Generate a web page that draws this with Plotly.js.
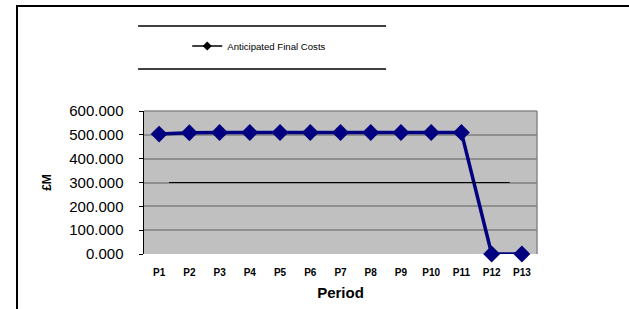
<!DOCTYPE html>
<html>
<head>
<meta charset="utf-8">
<script src="https://cdn.plot.ly/plotly-3.0.1.min.js"></script>
<style>
  html, body { margin: 0; padding: 0; background: #fff; }
  #frame { position: absolute; left: 16px; top: 5px; width: 620px; height: 310px;
           border-top: 2px solid #000; border-left: 2px solid #000; }
  #chart { position: absolute; left: 0; top: 0; width: 629px; height: 309px; }
</style>
</head>
<body>
<div id="frame"></div>
<div id="chart"></div>
<script>
const periods = ["P1","P2","P3","P4","P5","P6","P7","P8","P9","P10","P11","P12","P13"];
const anticipatedFinalCosts = [503, 509, 510, 510, 510, 510, 510, 510, 510, 510, 510, 0, 0];
const yTickValues = [0, 100, 200, 300, 400, 500, 600];
const yTickLabels = ["0.000","100.000","200.000","300.000","400.000","500.000","600.000"];
const seriesName = "Anticipated Final Costs";

const font = "Arial, 'Liberation Sans', sans-serif";

const traces = [
  {
    type: "scatter", mode: "lines+markers",
    x: periods, y: anticipatedFinalCosts,
    name: seriesName, showlegend: false,
    line: { color: "#000080", width: 3.5 },
    marker: { symbol: "diamond", size: 13, color: "#000080" },
    cliponaxis: false
  },
  {
    type: "scatter", mode: "lines+markers",
    x: [null], y: [null],
    name: seriesName, showlegend: true,
    line: { color: "#000000", width: 1.5 },
    marker: { symbol: "diamond", size: 7, color: "#000000" }
  }
];

const layout = {
  width: 629, height: 309,
  margin: { l: 144, r: 92, t: 111, b: 55 },
  paper_bgcolor: "rgba(0,0,0,0)",
  plot_bgcolor: "#c0c0c0",
  font: { family: font, color: "#000" },
  showlegend: true,
  legend: {
    orientation: "h", x: 0.11, y: 1.455, xanchor: "left", yanchor: "middle",
    bgcolor: "rgba(0,0,0,0)", font: { size: 9.6, family: font },
    itemwidth: 30
  },
  xaxis: {
    type: "category", range: [-0.5, 12.5],
    showgrid: false, zeroline: false,
    showline: false, ticks: "",
    tickfont: { size: 10, family: font, weight: "bold" },
    ticklabelstandoff: 11,
    title: { text: "Period", font: { size: 15, family: font, weight: "bold" }, standoff: 10 },
    automargin: false
  },
  yaxis: {
    range: [0, 600], tickvals: yTickValues, ticktext: yTickLabels,
    showgrid: true, gridcolor: "#8f8f8f", gridwidth: 2,
    zeroline: false,
    showline: true, linecolor: "#000", linewidth: 1.5,
    ticks: "outside", ticklen: 4, tickcolor: "#000",
    tickfont: { size: 15, family: font },
    ticklabelstandoff: 12,
    title: { text: "£M", font: { size: 12, family: font, weight: "bold" }, standoff: 15 },
    automargin: false
  },
  shapes: [
    { type: "line", xref: "paper", yref: "paper", x0: -0.015, x1: 0.616, y0: 1.594, y1: 1.594,
      line: { color: "#000", width: 1.5 } },
    { type: "line", xref: "paper", yref: "paper", x0: -0.015, x1: 0.616, y0: 1.294, y1: 1.294,
      line: { color: "#000", width: 1.5 } },
    { type: "line", xref: "x", yref: "y", x0: 0.33, x1: 11.6, y0: 300, y1: 300,
      line: { color: "#000", width: 1 } },
    { type: "line", xref: "paper", yref: "paper", x0: 0, x1: 1, y0: 1, y1: 1,
      line: { color: "#888", width: 1.5 } },
    { type: "line", xref: "paper", yref: "paper", x0: 1, x1: 1, y0: 0, y1: 1,
      line: { color: "#888", width: 1.5 } }
  ]
};

Plotly.newPlot("chart", traces, layout, { displayModeBar: false, staticPlot: true });
</script>
</body>
</html>
